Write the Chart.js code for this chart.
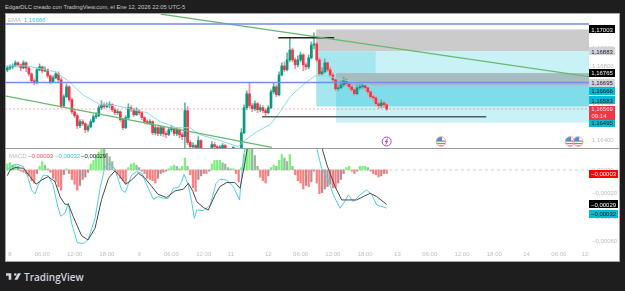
<!DOCTYPE html>
<html>
<head>
<meta charset="utf-8">
<script src="https://cdn.jsdelivr.net/npm/chart.js@4/dist/chart.umd.min.js"></script>
<style>
html,body{margin:0;padding:0;background:#1e1e1e;width:625px;height:291px;overflow:hidden;font-family:"Liberation Sans",sans-serif}
#panel{position:absolute;left:5px;top:13px;width:613px;height:247px;background:#fff;border:1px solid #a6a6a6}
#divider{position:absolute;left:5px;top:148px;width:614px;height:1px;background:#9c9c9c}
canvas{position:absolute;left:5px}
#priceCanvas{top:14px}
#macdCanvas{top:149px}
.t{position:absolute;white-space:nowrap;font-size:6px;line-height:8px}
#title{left:5px;top:3px;color:#c9c9c9;font-size:5.75px}
#brand{left:24px;top:270px;color:#d1d4dc;font-size:10px;line-height:14px;font-weight:600;font-family:"Open Sans",sans-serif}
#logo{position:absolute;left:6px;top:273px;width:15px;height:7px;fill:#d1d4dc}
</style>
</head>
<body>
<div id="panel"></div>
<canvas id="priceCanvas" width="614" height="134"></canvas>
<canvas id="macdCanvas" width="614" height="112"></canvas>
<div id="divider"></div>
<div class="t" id="title">EdgarDLC creado con TradingView.com, el Ene 12, 2026 22:05 UTC-5</div>
<div class="t" style="left:8px;top:16px;color:#b9b9b9">EMA</div>
<div class="t" style="left:24px;top:16px;color:#3fc4d8">1,16666</div>
<div class="t" style="left:9px;top:152px;color:#b9b9b9">MACD</div>
<div class="t" style="left:28px;top:152px;color:#f2525e">−0,00003</div>
<div class="t" style="left:55px;top:152px;color:#3fc4d8">−0,00032</div>
<div class="t" style="left:81px;top:152px;color:#222">−0,00029</div>
<svg id="logo" viewBox="2 6 34 15"><path d="M14 6H2v6h6v9h6V6zm14 15h-7l8-15h7l-8 15zm-5-9a3 3 0 1 0 0-6 3 3 0 0 0 0 6z"/></svg>
<div class="t" id="brand">TradingView</div>
<script>
// 30-minute EURUSD candles, first bar number is -1
const firstBar = -1;
const opens = [1.16782,1.16793,1.16799,1.16804,1.16821,1.16810,1.16793,1.16821,1.16793,1.16761,1.16723,1.16712,1.16783,1.16799,1.16777,1.16783,1.16750,1.16717,1.16739,1.16761,1.16728,1.16587,1.16636,1.16690,1.16620,1.16554,1.16533,1.16478,1.16500,1.16489,1.16456,1.16473,1.16500,1.16527,1.16533,1.16576,1.16592,1.16582,1.16587,1.16592,1.16565,1.16549,1.16554,1.16511,1.16467,1.16522,1.16576,1.16565,1.16538,1.16560,1.16549,1.16522,1.16500,1.16495,1.16500,1.16440,1.16467,1.16435,1.16467,1.16435,1.16429,1.16456,1.16462,1.16435,1.16456,1.16429,1.16418,1.16560,1.16386,1.16364,1.16370,1.16359,1.16397,1.16348,1.16337,1.16321,1.16337,1.16375,1.16364,1.16348,1.16353,1.16370,1.16348,1.16326,1.16315,1.16315,1.16304,1.16315,1.16440,1.16576,1.16652,1.16587,1.16571,1.16598,1.16565,1.16576,1.16560,1.16549,1.16576,1.16663,1.16690,1.16647,1.16755,1.16804,1.16783,1.16837,1.16891,1.16837,1.16810,1.16837,1.16864,1.16810,1.16799,1.16848,1.16918,1.16924,1.16837,1.16761,1.16772,1.16821,1.16783,1.16755,1.16728,1.16679,1.16685,1.16701,1.16728,1.16706,1.16690,1.16674,1.16652,1.16685,1.16690,1.16696,1.16685,1.16663,1.16636,1.16630,1.16598,1.16587,1.16603,1.16592];
const closes = [1.16793,1.16799,1.16804,1.16821,1.16810,1.16793,1.16821,1.16793,1.16761,1.16723,1.16712,1.16783,1.16799,1.16777,1.16783,1.16750,1.16717,1.16739,1.16761,1.16728,1.16587,1.16636,1.16690,1.16620,1.16554,1.16533,1.16478,1.16500,1.16489,1.16456,1.16473,1.16500,1.16527,1.16533,1.16576,1.16592,1.16582,1.16587,1.16592,1.16565,1.16549,1.16554,1.16511,1.16467,1.16522,1.16576,1.16565,1.16538,1.16560,1.16549,1.16522,1.16500,1.16495,1.16500,1.16440,1.16467,1.16435,1.16467,1.16435,1.16429,1.16456,1.16462,1.16435,1.16456,1.16429,1.16418,1.16560,1.16386,1.16364,1.16370,1.16359,1.16397,1.16348,1.16337,1.16321,1.16337,1.16375,1.16364,1.16348,1.16353,1.16370,1.16348,1.16326,1.16315,1.16315,1.16304,1.16315,1.16440,1.16576,1.16652,1.16587,1.16571,1.16598,1.16565,1.16576,1.16560,1.16549,1.16576,1.16663,1.16690,1.16647,1.16755,1.16804,1.16783,1.16837,1.16891,1.16837,1.16810,1.16837,1.16864,1.16810,1.16799,1.16848,1.16918,1.16924,1.16837,1.16761,1.16772,1.16821,1.16783,1.16755,1.16728,1.16679,1.16685,1.16701,1.16728,1.16706,1.16690,1.16674,1.16652,1.16685,1.16690,1.16696,1.16685,1.16663,1.16636,1.16630,1.16598,1.16587,1.16603,1.16592,1.16569];
const highs = [1.16804,1.16810,1.16815,1.16832,1.16826,1.16815,1.16832,1.16826,1.16799,1.16766,1.16734,1.16793,1.16815,1.16804,1.16799,1.16788,1.16755,1.16750,1.16772,1.16772,1.16739,1.16647,1.16706,1.16696,1.16630,1.16565,1.16543,1.16511,1.16511,1.16494,1.16484,1.16511,1.16538,1.16549,1.16587,1.16614,1.16603,1.16603,1.16609,1.16598,1.16576,1.16565,1.16560,1.16516,1.16533,1.16598,1.16587,1.16571,1.16576,1.16565,1.16554,1.16527,1.16511,1.16511,1.16505,1.16478,1.16473,1.16478,1.16473,1.16446,1.16467,1.16478,1.16467,1.16467,1.16462,1.16440,1.16603,1.16582,1.16397,1.16386,1.16375,1.16418,1.16402,1.16353,1.16342,1.16348,1.16391,1.16386,1.16370,1.16370,1.16381,1.16375,1.16353,1.16332,1.16326,1.16321,1.16326,1.16462,1.16592,1.16668,1.16712,1.16598,1.16614,1.16603,1.16592,1.16587,1.16571,1.16587,1.16674,1.16712,1.16701,1.16772,1.16821,1.16826,1.16875,1.16957,1.16902,1.16848,1.16859,1.16880,1.16870,1.16821,1.16864,1.16935,1.16984,1.16935,1.16848,1.16793,1.16843,1.16826,1.16799,1.16766,1.16739,1.16701,1.16723,1.16745,1.16739,1.16717,1.16701,1.16685,1.16701,1.16706,1.16712,1.16701,1.16690,1.16668,1.16647,1.16636,1.16609,1.16620,1.16614,1.16598];
const lows = [1.16772,1.16783,1.16788,1.16799,1.16799,1.16777,1.16788,1.16772,1.16750,1.16712,1.16701,1.16706,1.16777,1.16766,1.16772,1.16739,1.16706,1.16712,1.16734,1.16717,1.16576,1.16576,1.16630,1.16609,1.16543,1.16522,1.16462,1.16467,1.16478,1.16440,1.16445,1.16467,1.16494,1.16516,1.16527,1.16565,1.16571,1.16576,1.16576,1.16554,1.16538,1.16538,1.16500,1.16456,1.16462,1.16516,1.16554,1.16527,1.16533,1.16538,1.16511,1.16489,1.16484,1.16484,1.16429,1.16429,1.16424,1.16424,1.16418,1.16413,1.16424,1.16446,1.16424,1.16424,1.16413,1.16402,1.16350,1.16375,1.16348,1.16353,1.16342,1.16353,1.16337,1.16321,1.16310,1.16310,1.16332,1.16353,1.16337,1.16337,1.16342,1.16337,1.16315,1.16304,1.16304,1.16293,1.16299,1.16299,1.16435,1.16565,1.16576,1.16554,1.16560,1.16549,1.16554,1.16549,1.16533,1.16543,1.16571,1.16652,1.16636,1.16641,1.16750,1.16772,1.16777,1.16826,1.16826,1.16788,1.16799,1.16826,1.16777,1.16783,1.16788,1.16842,1.16897,1.16826,1.16750,1.16755,1.16766,1.16772,1.16744,1.16717,1.16668,1.16668,1.16679,1.16690,1.16696,1.16679,1.16663,1.16641,1.16647,1.16674,1.16679,1.16668,1.16647,1.16625,1.16614,1.16587,1.16571,1.16576,1.16576,1.16560];

const emaBars = [-1,6.3,16.7,21.2,27.1,33.5,39.8,45.7,50.9,55.8,62,66.9,70.6,76.9,84.8,86.6,91.8,96.7,100.4,104.1,108.9,113.4,117.8,123.8,131.2,140];
const emaValues = [1.16804,1.16804,1.16772,1.16728,1.16647,1.16592,1.16587,1.16565,1.16549,1.16500,1.16467,1.16467,1.16429,1.16402,1.16364,1.16391,1.16446,1.16484,1.16554,1.16636,1.16701,1.16750,1.16750,1.16728,1.16712,1.16666];

// Drawn levels and trend lines: [bar, price, bar, price]
const upperTrend = [56,1.17087,215.2,1.16746];
const lowerTrend = [-1.86,1.16641,97.3,1.16360];
const blueLevels = [1.17033,1.16714];
const swingHigh = [99.7,1.16958,120.5,1.16958];
const swingLow = [93.7,1.16527,177,1.16527];
const lastPrice = 1.16569;

// Shaded ranges: [bar from, bar to, price top, price bottom]
const zoneBars = [[113.8,215.2,1.17003,1.16883],[113.8,136,1.16883,1.16583],[136,215.2,1.16883,1.16583],[121.2,215.2,1.16583,1.16495],[121.2,215.2,1.16695,1.16583],[121.2,215.2,1.16765,1.16695]];
const zoneColors = ['#cbcbcb','#a6e7ef','#c9f2f6','#c9f2f6','#7fdde9','#a6bcc0'];

const macdBars = [-1,-0.6,1.2,2.5,5,6.8,8,9.3,10.5,12.4,14.2,16,17.6,18.8,20.4,21.7,22.9,25,27.3,29,31.6,33.5,35.3,37.2,39,41.5,42.8,45.2,47,49,51.4,53.3,55,57,58.9,60.7,62.6,63.8,64.7,66.3,67.5,68.5,69.4,71.9,74.4,76.6,78,80.5,83,85.3,86.7,88,92,98,105,110,114,115.8,118,120.2,122.7,124,125.8,127.6,130,132.6,134.5,136.3,140];
const macdValues = [0,0.000008,0.000042,0.000048,0.000028,-0.00007,-0.000168,-0.000202,-0.000126,-0.000042,-0.000048,-0.000126,-0.000294,-0.000389,-0.000364,-0.00028,-0.000448,-0.00061,-0.000619,-0.000588,-0.000406,-0.000154,0.000028,0.000056,0.000006,-0.000168,-0.00019,-0.000042,-0.000014,-0.000028,-0.000154,-0.000246,-0.000224,-0.000238,-0.000238,-0.000154,-0.000146,-0.000098,-0.000036,-0.000126,-0.000266,-0.000406,-0.000336,-0.000342,-0.000294,-0.000112,-0.000078,-0.000084,-0.00014,-0.000252,0.000098,0.000266,0.00056,0.00091,0.00077,0.00049,0.000182,0.000014,-0.00007,-0.00021,-0.000322,-0.00028,-0.00021,-0.000266,-0.00021,-0.000168,-0.00021,-0.000294,-0.00032];
const signalBars = [-1,0,1.9,5,7.4,9.7,11.8,14.2,16.7,18.6,20.4,21.7,23.5,26.6,29,31.6,34,36.6,39,40.9,43,45.2,47.7,50,52.7,55,58.2,61.3,64.4,66.3,68,69.4,71.9,73.7,76.2,78,80.5,83.6,85.5,87.4,88.6,94,100,107,112,116,117.8,120.8,123.3,125.8,128.8,131.3,133.9,136.3,140];
const signalValues = [-0.000048,0,0.00002,0.000014,-0.000056,-0.00012,-0.000084,-0.000056,-0.000098,-0.000224,-0.000288,-0.000288,-0.000392,-0.000552,-0.000588,-0.00049,-0.000252,-0.00007,-0.000008,-0.000056,-0.00012,-0.000084,-0.000028,-0.000064,-0.00014,-0.000204,-0.000232,-0.000176,-0.000162,-0.000112,-0.000182,-0.000266,-0.000316,-0.000336,-0.00021,-0.00014,-0.000106,-0.000106,-0.000154,0.00007,0.000238,0.00048,0.00076,0.0008,0.00052,0.000182,0.000042,-0.00014,-0.000252,-0.000252,-0.000252,-0.000224,-0.000196,-0.000224,-0.00029];
const histogram = [5e-5,6e-5,4e-5,4e-5,3e-5,-1e-5,-2e-5,-3e-5,-5e-5,-9e-5,-11e-5,-3e-5,3e-5,7e-5,4e-5,1e-5,-2e-5,-7e-5,-10e-5,-14e-5,-17e-5,-4e-5,1e-5,-3e-5,-8e-5,-12e-5,-17e-5,-13e-5,-8e-5,-6e-5,-2e-5,5e-5,8e-5,12e-5,15e-5,20e-5,18e-5,14e-5,11e-5,7e-5,-1e-5,-3e-5,-7e-5,-9e-5,-11e-5,2e-5,5e-5,6e-5,4e-5,2e-5,-1e-5,-3e-5,-7e-5,-8e-5,-9e-5,-11e-5,-7e-5,-3e-5,-2e-5,-1e-5,1e-5,3e-5,4e-5,3e-5,1e-5,3e-5,10e-5,3e-5,-4e-5,-15e-5,-18e-5,-8e-5,-5e-5,-3e-5,-3e-5,-1e-5,5e-5,8e-5,8e-5,8e-5,6e-5,5e-5,2e-5,1e-5,1e-5,-3e-5,-10e-5,2e-5,13e-5,25e-5,25e-5,22e-5,12e-5,3e-5,-6e-5,-9e-5,-11e-5,-5e-5,2e-5,4e-5,3e-5,8e-5,13e-5,10e-5,7e-5,13e-5,3e-5,-4e-5,-9e-5,-11e-5,-16e-5,-13e-5,-14e-5,-10e-5,-1e-5,-11e-5,-20e-5,-19e-5,-16e-5,-14e-5,-12e-5,-15e-5,-15e-5,-11e-5,-8e-5,-3e-5,2e-5,3e-5,-1e-5,-3e-5,-1e-5,3e-5,3e-5,3e-5,2e-5,-1e-5,-3e-5,-4e-5,-6e-5,-5e-5,-3e-5,-3e-5];

const priceTicks = [1.164,1.165,1.166,1.167,1.168,1.169,1.170];
const macdTicks = [0,-0.0002,-0.0004,-0.0006];
const timeTickBars = [0,12,24,36,48,60,72,82,96,108,120,132,144,156,168,180,192,204,214];
const timeTickLabels = ['8','06:00','12:00','18:00','9','06:00','12:00','11','12','06:00','12:00','18:00','13','06:00','12:00','18:00','14','06:00','12:'];

// Axis badges: value, background, text colour, vertical nudge to keep them apart
const priceTagValues = [1.17003,1.16883,1.16765,1.16695,1.16666,1.16583,1.16495];
const priceTagFills = ['#000','#d1d4dc','#000','#d1d4dc','#00bcd4','#00bcd4','#00bcd4'];
const priceTagInks = ['#fff','#222','#fff','#222','#111','#111','#111'];
const priceTagNudges = [0,0,0,-3,0,-6,0];
const macdTagValues = [-0.00003,-0.00029,-0.00032];
const macdTagLabels = ['−0,00003','−0,00029','−0,00032'];
const macdTagFills = ['#ff0000','#000','#00bcd4'];
const macdTagInks = ['#fff','#fff','#111'];
const macdTagNudges = [0,0,6];

// Session events marked under the candles
const flagBars = [160.2,208.2,211.2];
const newsBars = [140];

const xMin = -1.86, xMax = 215.2;
const fontFace = '"Liberation Sans", sans-serif';
const comma = v => v.toFixed(5).replace('.', ',');
const UP = '#089981', DOWN = '#f23645';
const bars = closes.map((_, i) => i + firstBar);
const candleColors = closes.map((c, i) => c >= opens[i] ? UP : DOWN);
const pairs = (xs, ys) => xs.map((x, i) => ({x, y: ys[i]}));
const segment = s => [{x: s[0], y: s[1]}, {x: s[2], y: s[3]}];
const level = p => [{x: xMin, y: p}, {x: xMax, y: p}];
const stroke = (data, color, width, order, dash) => ({type: 'line', data, borderColor: color, borderWidth: width, pointRadius: 0, order, borderDash: dash || [], tension: 0});

const histColors = histogram.map((h, i) => {
  const prev = i ? histogram[i - 1] : h;
  if (h >= 0) return h >= prev ? '#7df07d' : '#9ab8a0';
  return h <= prev ? '#ff7f7f' : '#c58a8f';
});

// Scales must not inset the plot for their outermost labels: the panes butt against each other
const flush = (s, box) => {
  Object.assign(s, box, {paddingTop: 0, paddingBottom: 0, paddingLeft: 0, paddingRight: 0});
};

function drawTag(ctx, x, w, cy, h, fill, ink, text) {
  ctx.fillStyle = fill;
  ctx.fillRect(x, Math.round(cy - h / 2), w, h);
  ctx.fillStyle = ink;
  ctx.font = '6px ' + fontFace;
  ctx.textAlign = 'center';
  ctx.textBaseline = 'middle';
  ctx.fillText(text, x + w / 2, cy + 0.5);
}

const zonesPlugin = {
  id: 'zones',
  beforeDatasetsDraw(chart) {
    const {ctx, scales: {x, y}} = chart;
    zoneBars.forEach((z, i) => {
      const l = x.getPixelForValue(z[0]), r = x.getPixelForValue(z[1]);
      const t = y.getPixelForValue(z[2]), b = y.getPixelForValue(z[3]);
      ctx.fillStyle = zoneColors[i];
      ctx.fillRect(l, t, r - l, b - t);
    });
  }
};

const priceOverlay = {
  id: 'priceOverlay',
  afterDraw(chart) {
    const {ctx, scales: {x, y}, chartArea: a} = chart;
    ctx.save();
    const iconY = a.bottom - 6.5;
    flagBars.forEach(b => {
      const cx = x.getPixelForValue(b);
      ctx.save();
      ctx.beginPath(); ctx.arc(cx, iconY, 5, 0, Math.PI * 2); ctx.clip();
      ctx.fillStyle = '#fff'; ctx.fillRect(cx - 5, iconY - 5, 10, 10);
      ctx.fillStyle = '#f0616d';
      for (let k = 0; k < 3; k++) ctx.fillRect(cx - 5, iconY - 1 + k * 2.4, 10, 1.2);
      ctx.fillStyle = '#4a90d9'; ctx.fillRect(cx - 5, iconY - 5, 6, 4.5);
      ctx.restore();
      ctx.beginPath(); ctx.arc(cx, iconY, 4.8, 0, Math.PI * 2);
      ctx.strokeStyle = '#f7a3ab'; ctx.lineWidth = 1; ctx.stroke();
    });
    newsBars.forEach(b => {
      const cx = x.getPixelForValue(b);
      ctx.beginPath(); ctx.arc(cx, iconY, 4.5, 0, Math.PI * 2);
      ctx.fillStyle = '#fff'; ctx.fill();
      ctx.strokeStyle = '#a24cc4'; ctx.lineWidth = 1; ctx.stroke();
      ctx.beginPath();
      ctx.moveTo(cx + 1, iconY - 3); ctx.lineTo(cx - 1.5, iconY + 0.5); ctx.lineTo(cx + 1, iconY - 0.5); ctx.lineTo(cx - 1, iconY + 3);
      ctx.stroke();
    });
    priceTagValues.forEach((v, i) => {
      drawTag(ctx, a.right, 26, y.getPixelForValue(v) + priceTagNudges[i], 8, priceTagFills[i], priceTagInks[i], comma(v));
    });
    // Last price badge with the bar countdown
    const cy = y.getPixelForValue(lastPrice) + 3.5;
    ctx.fillStyle = '#f23645';
    ctx.fillRect(a.right, Math.round(cy - 7), 26, 14);
    ctx.fillStyle = '#ffe3e5';
    ctx.font = '6px ' + fontFace;
    ctx.textAlign = 'center';
    ctx.textBaseline = 'middle';
    ctx.fillText(comma(lastPrice), a.right + 13, cy - 3);
    ctx.fillText('09:14', a.right + 10, cy + 3.5);
    ctx.restore();
  }
};

const macdOverlay = {
  id: 'macdOverlay',
  afterDraw(chart) {
    const {ctx, scales: {y}, chartArea: a} = chart;
    ctx.save();
    macdTagValues.forEach((v, i) => {
      drawTag(ctx, a.right, 29, y.getPixelForValue(v) + macdTagNudges[i], 8, macdTagFills[i], macdTagInks[i], macdTagLabels[i]);
    });
    ctx.restore();
  }
};

const sharedX = {type: 'linear', min: xMin, max: xMax, offset: false};
const quietPlugins = {legend: {display: false}, tooltip: {enabled: false}};
const axisFont = {family: fontFace, size: 6};

new Chart(document.getElementById('priceCanvas'), {
  type: 'bar',
  data: {
    datasets: [
      stroke(level(blueLevels[0]), '#6d8fe6', 1.5, 1),
      stroke(level(blueLevels[1]), '#6d8fe6', 1.5, 1),
      stroke(segment(upperTrend), '#69b96d', 1.2, 1),
      stroke(segment(lowerTrend), '#69b96d', 1.2, 1),
      stroke(segment(swingHigh), '#222', 1.5, 1),
      stroke(segment(swingLow), 'rgba(30,30,30,.72)', 1.5, 1),
      stroke(pairs(emaBars, emaValues), '#86dbe8', 1, 2),
      {data: bars.map((b, i) => ({x: b, y: [opens[i], closes[i]]})), backgroundColor: candleColors, barThickness: 2, grouped: false, order: 3, minBarLength: 1},
      {data: bars.map((b, i) => ({x: b, y: [lows[i], highs[i]]})), backgroundColor: candleColors.map(c => c === UP ? '#5cb8a6' : '#f7909a'), barThickness: 1, grouped: false, order: 4},
      stroke(level(lastPrice), 'rgba(242,54,69,.4)', 1, 5, [2, 2])
    ]
  },
  options: {
    responsive: false, animation: false, devicePixelRatio: 1,
    layout: {padding: 0},
    plugins: quietPlugins,
    scales: {
      x: {...sharedX, display: false},
      y: {
        position: 'right', min: 1.163563, max: 1.170872,
        grid: {display: false, drawTicks: false}, border: {display: false},
        afterFit: s => flush(s, {width: 30}),
        afterBuildTicks: s => { s.ticks = priceTicks.map(value => ({value})); },
        ticks: {callback: v => comma(v), color: '#bdbdbd', font: axisFont, padding: 3}
      }
    }
  },
  plugins: [zonesPlugin, priceOverlay]
});

new Chart(document.getElementById('macdCanvas'), {
  type: 'bar',
  data: {
    datasets: [
      stroke(pairs(signalBars, signalValues), '#4a4a4a', 1, 1),
      stroke(pairs(macdBars, macdValues), '#4fcfe2', 1, 2),
      {data: bars.map((b, i) => ({x: b, y: histogram[i]})), backgroundColor: histColors, barThickness: 1.6, grouped: false, order: 3},
      stroke(level(0), '#cfcfcf', 1, 4, [3, 3])
    ]
  },
  options: {
    responsive: false, animation: false, devicePixelRatio: 1,
    layout: {padding: 0},
    plugins: quietPlugins,
    scales: {
      x: {
        ...sharedX, position: 'bottom',
        grid: {display: false, drawTicks: false}, border: {display: false},
        afterFit: s => flush(s, {height: 12}),
        afterBuildTicks: s => { s.ticks = timeTickBars.map(value => ({value})); },
        ticks: {autoSkip: false, maxRotation: 0, callback: (v, i) => timeTickLabels[i], color: '#bdbdbd', font: axisFont, padding: 2}
      },
      y: {
        position: 'right', min: -0.000664, max: 0.000176,
        grid: {display: false, drawTicks: false}, border: {display: false},
        afterFit: s => flush(s, {width: 30}),
        afterBuildTicks: s => { s.ticks = macdTicks.map(value => ({value})); },
        ticks: {callback: v => v === 0 ? '0,00000' : '−' + comma(-v), color: '#bdbdbd', font: axisFont, padding: 3}
      }
    }
  },
  plugins: [macdOverlay]
});
</script>
</body>
</html>
